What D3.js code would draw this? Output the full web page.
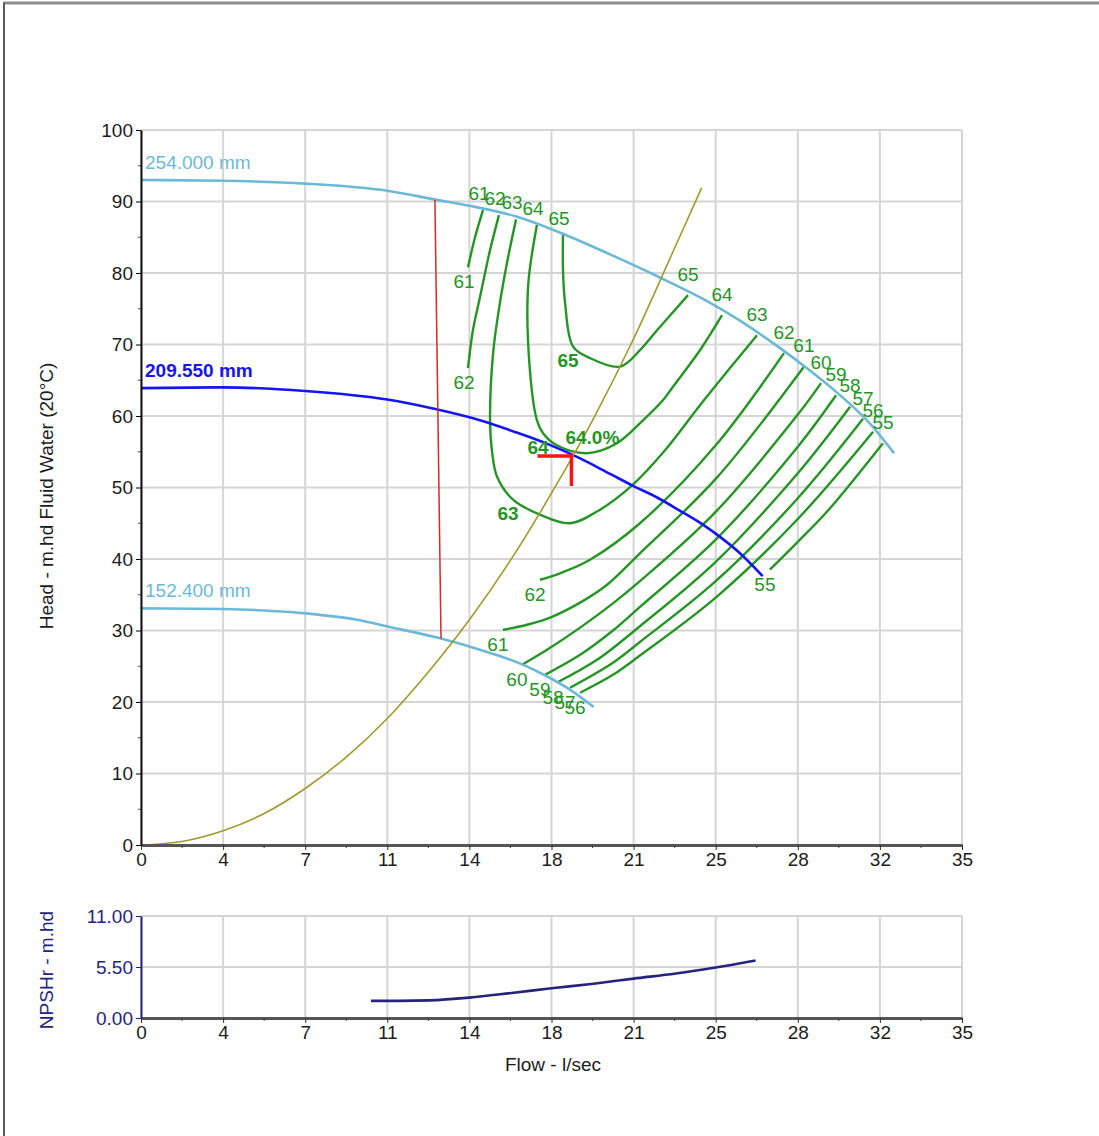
<!DOCTYPE html>
<html>
<head>
<meta charset="utf-8">
<title>Pump performance</title>
<script src="https://cdn.jsdelivr.net/npm/d3@7"></script>
<style>
  body { margin: 0; background: #fff; }
  svg { display: block; font-family: "Liberation Sans", Arial, sans-serif; }
</style>
</head>
<body>
<svg id="chart" width="1099" height="1136"></svg>
<script>
'use strict';

// flow axis (l/sec) and head / npsh axes
var xTicks = [0, 3.5, 7, 10.5, 14, 17.5, 21, 24.5, 28, 31.5, 35];
var xTickLabels = ['0', '4', '7', '11', '14', '18', '21', '25', '28', '32', '35'];
var headTicks = [0, 10, 20, 30, 40, 50, 60, 70, 80, 90, 100];
var npshTicks = [0, 5.5, 11];
var npshTickLabels = ['0.00', '5.50', '11.00'];

// impeller curves, [flow, head]
var imp254 = [[0, 93], [3.5, 92.9], [7, 92.5], [10.5, 91.5], [12.5, 90.3], [14, 89.4], [16, 87.9],
  [17.9, 85.6], [20, 82.6], [22.1, 79.4], [24, 76.3], [25.5, 73.4], [27.2, 69.6], [28.5, 66.4],
  [29.7, 63.2], [31, 59.2], [32.1, 54.8]];
var imp209 = [[0, 63.9], [3.5, 64], [7, 63.5], [10.5, 62.3], [12.5, 61], [14.45, 59.4], [16, 57.7],
  [17.4, 56], [18.7, 54.1], [20, 51.9], [21, 50.2], [22, 48.6], [23, 46.7], [24, 44.7],
  [24.6, 43.3], [25.5, 40.9], [26.5, 37.6]];
var imp152 = [[0, 33.1], [3.5, 33], [7, 32.4], [9.2, 31.5], [10.6, 30.5], [12.75, 28.9], [14.45, 27.3],
  [16.3, 25.2], [17.3, 23.6], [18.3, 21.7], [19.3, 19.3]];
var impLabels = ['254.000 mm', '209.550 mm', '152.400 mm'];

var systemCurve = [[0, 0], [1.75, 0.5], [3.5, 2.0], [5.25, 4.4], [7, 7.9], [8.75, 12.3], [10.5, 17.7],
  [12.25, 24.2], [14, 31.5], [15.75, 39.8], [17.5, 49.2], [19.25, 59.4], [21, 70.8], [22.75, 83.5],
  [23.9, 91.9]];
var redLine = [[12.53, 90.2], [12.79, 28.9]];
var dutyPoint = [18.35, 54.4];
var dutyLabel = '64.0%';

// efficiency contours (%), [flow, head]
var eff61a = [[14.58, 88.8], [14.24, 85.0], [13.94, 80.8]];
var eff62a = [[15.26, 88.1], [14.88, 83.2], [14.45, 76.6], [14.15, 72.0], [13.94, 66.7]];
var eff63 = [[15.99, 87.5], [15.65, 82.2], [15.30, 75.8], [15.01, 68.8], [14.88, 59.4], [14.96, 55.2],
  [15.18, 51.5], [15.86, 48.3], [17.01, 46.2], [18.29, 45.0], [19.57, 46.9], [20.97, 50.4],
  [22.34, 55.2], [23.83, 61.5], [25.11, 66.7], [26.26, 71.3]];
var eff64 = [[16.88, 86.7], [16.50, 78.0], [16.58, 66.4], [16.88, 59.4], [17.14, 57.6], [17.73, 55.9],
  [19.01, 54.8], [20.29, 56.2], [21.40, 59.4], [22.25, 62.2], [22.68, 64.1], [23.83, 69.2], [24.77, 74.1]];
var eff65 = [[17.99, 85.3], [17.99, 80.4], [18.08, 75.8], [18.42, 69.7], [19.14, 68.1], [20.42, 66.9],
  [21.27, 69.2], [22.00, 72.0], [23.32, 76.9]];
var eff62b = [[17.01, 37.1], [17.86, 38.0], [19.14, 39.9], [21.27, 45.0], [24.5, 55.9], [27.41, 68.8]];
var eff61b = [[15.43, 30.1], [16.46, 30.8], [17.44, 31.8], [18.72, 33.9], [19.87, 36.4], [21.27, 40.8],
  [24.5, 51.2], [28.26, 66.9]];
var eff60 = [[16.24, 25.2], [17.31, 27.3], [18.72, 30.4], [20.12, 33.8], [21.27, 36.9], [24.5, 46.6],
  [28, 60.2], [28.99, 64.6]];
var eff59 = [[17.22, 23.8], [18.72, 26.6], [20.12, 30.0], [21.27, 33.3], [24.5, 42.7], [28, 55.7], [29.63, 62.9]];
var eff58 = [[17.78, 22.8], [19.44, 25.9], [21.27, 30.6], [24.5, 39.6], [28, 52.0], [30.23, 61.3]];
var eff57 = [[18.29, 22.0], [20.12, 25.5], [21.27, 28.4], [24.5, 36.9], [28, 48.5], [30.78, 59.6]];
var eff56 = [[18.72, 21.3], [20.12, 23.8], [21.27, 26.5], [24.5, 34.6], [28, 45.6], [31.21, 57.8]];
var eff55 = [[26.81, 38.5], [28, 42.4], [29.24, 46.6], [31.63, 56.2]];

// NPSHr curve, [flow, m]
var npsh = [[9.8, 1.85], [11, 1.85], [12.3, 1.9], [14, 2.2], [15.8, 2.7], [17.5, 3.2], [19.3, 3.7],
  [21, 4.25], [22.8, 4.8], [24.5, 5.45], [26.2, 6.2]];

var contours = [
  {level: 61, kind: 'left', pts: eff61a},
  {level: 62, kind: 'left', pts: eff62a},
  {level: 63, kind: 'bowl', pts: eff63, mid: 7},
  {level: 64, kind: 'bowl', pts: eff64, mid: 4},
  {level: 65, kind: 'bowl', pts: eff65, mid: 3},
  {level: 62, kind: 'rise', pts: eff62b},
  {level: 61, kind: 'rise', pts: eff61b},
  {level: 60, kind: 'rise', pts: eff60},
  {level: 59, kind: 'rise', pts: eff59},
  {level: 58, kind: 'rise', pts: eff58},
  {level: 57, kind: 'rise', pts: eff57},
  {level: 56, kind: 'rise', pts: eff56},
  {level: 55, kind: 'rise', pts: eff55}
];

var labelOffsets = {
  left: {first: [-4, -17], last: [-4, 14]},
  bowl: {first: [-4, -17], last: [0, -21]},
  rise: {first: [-5, 15], last: [0, -21]}
};

var green = '#259525',
  lightBlue = '#6cb9d7',
  blue = '#1515f0',
  navy = '#24247e',
  gridColor = '#d5d5d5';

var svg = d3.select('#chart');

var x = d3.scaleLinear().domain([0, 35]).range([141, 962]);
var y = d3.scaleLinear().domain([0, 100]).range([845, 130]);
var yN = d3.scaleLinear().domain([0, 11]).range([1018, 916]);

// page frame
svg.append('line')
  .attr('x1', 3).attr('x2', 1099).attr('y1', 3).attr('y2', 3)
  .attr('stroke', '#8c8c8c').attr('stroke-width', 3);
svg.append('line')
  .attr('x1', 4).attr('x2', 4).attr('y1', 3).attr('y2', 1136)
  .attr('stroke', '#5a5a5a').attr('stroke-width', 2);

// grids
function drawGrid(yScale, yValues) {
  var g = svg.append('g');
  var yr = yScale.range();
  g.selectAll('line.v').data(xTicks).enter().append('line')
    .attr('x1', function (d) { return x(d); })
    .attr('x2', function (d) { return x(d); })
    .attr('y1', yr[0]).attr('y2', yr[1])
    .attr('stroke', gridColor).attr('stroke-width', 2);
  g.selectAll('line.h').data(yValues).enter().append('line')
    .attr('x1', x(0)).attr('x2', x(35))
    .attr('y1', function (d) { return yScale(d); })
    .attr('y2', function (d) { return yScale(d); })
    .attr('stroke', gridColor).attr('stroke-width', 2);
}
drawGrid(y, headTicks);
drawGrid(yN, npshTicks);

// contours can turn back on themselves, so they use catmull-rom
var contourLine = d3.line()
  .x(function (d) { return x(d[0]); })
  .y(function (d) { return y(d[1]); })
  .curve(d3.curveCatmullRom.alpha(0.5));

var curveLine = d3.line()
  .x(function (d) { return x(d[0]); })
  .y(function (d) { return y(d[1]); })
  .curve(d3.curveMonotoneX);

// efficiency contours
svg.append('g').selectAll('path').data(contours).enter().append('path')
  .attr('d', function (d) { return contourLine(d.pts); })
  .attr('fill', 'none').attr('stroke', green).attr('stroke-width', 2.4);

// impeller curves
var impellers = [
  {pts: imp254, label: impLabels[0], color: lightBlue, weight: 'normal'},
  {pts: imp209, label: impLabels[1], color: blue, weight: 'bold'},
  {pts: imp152, label: impLabels[2], color: lightBlue, weight: 'normal'}
];
svg.append('g').selectAll('path').data(impellers).enter().append('path')
  .attr('d', function (d) { return curveLine(d.pts); })
  .attr('fill', 'none')
  .attr('stroke', function (d) { return d.color; })
  .attr('stroke-width', 2.6);
svg.append('g').selectAll('text').data(impellers).enter().append('text')
  .attr('x', function (d) { return x(d.pts[0][0]) + 4; })
  .attr('y', function (d) { return y(d.pts[0][1]) - 11; })
  .attr('font-size', 19)
  .attr('font-weight', function (d) { return d.weight; })
  .attr('fill', function (d) { return d.color; })
  .text(function (d) { return d.label; });

// system curve
svg.append('path')
  .attr('d', curveLine(systemCurve))
  .attr('fill', 'none').attr('stroke', '#a09a2c').attr('stroke-width', 1.6);

// red reference line
svg.append('path')
  .attr('d', d3.line().x(function (d) { return x(d[0]); }).y(function (d) { return y(d[1]); })(redLine))
  .attr('fill', 'none').attr('stroke', '#d32a2a').attr('stroke-width', 1.5);

// contour labels
var labels = [];
contours.forEach(function (c) {
  var off = labelOffsets[c.kind];
  var first = c.pts[0], last = c.pts[c.pts.length - 1];
  labels.push({t: c.level, px: x(first[0]) + off.first[0], py: y(first[1]) + off.first[1], w: 'normal'});
  labels.push({t: c.level, px: x(last[0]) + off.last[0], py: y(last[1]) + off.last[1], w: 'normal'});
  if (c.mid !== undefined) {
    var m = c.pts[c.mid];
    labels.push({t: c.level, px: x(m[0]) - 5, py: y(m[1]) + 14, w: 'bold'});
  }
});
svg.append('g').selectAll('text').data(labels).enter().append('text')
  .attr('x', function (d) { return d.px; })
  .attr('y', function (d) { return d.py; })
  .attr('dy', '0.35em')
  .attr('text-anchor', 'middle')
  .attr('font-size', 19)
  .attr('font-weight', function (d) { return d.w; })
  .attr('fill', green)
  .text(function (d) { return d.t; });

// duty point label and marker
svg.append('text')
  .attr('x', x(dutyPoint[0]) - 6)
  .attr('y', y(dutyPoint[1]) - 12)
  .attr('font-size', 19)
  .attr('font-weight', 'bold')
  .attr('fill', green)
  .text(dutyLabel);
var dx = x(dutyPoint[0]), dy = y(dutyPoint[1]);
svg.append('path')
  .attr('d', 'M' + (dx - 34) + ',' + dy + 'H' + dx + 'V' + (dy + 30))
  .attr('fill', 'none').attr('stroke', '#ff1414').attr('stroke-width', 3.5);

// NPSHr curve
svg.append('path')
  .attr('d', d3.line()
    .x(function (d) { return x(d[0]); })
    .y(function (d) { return yN(d[1]); })
    .curve(d3.curveMonotoneX)(npsh))
  .attr('fill', 'none').attr('stroke', navy).attr('stroke-width', 2.6);

// axes
function xAxisAt(py) {
  var g = svg.append('g')
    .attr('transform', 'translate(0,' + py + ')')
    .call(d3.axisBottom(x).tickValues(xTicks)
      .tickFormat(function (d, i) { return xTickLabels[i]; })
      .tickSize(5).tickSizeOuter(0).tickPadding(3));
  g.attr('font-family', null).attr('font-size', 19);
  g.select('.domain').attr('stroke', '#555').attr('stroke-width', 3);
  g.selectAll('.tick line').attr('stroke', '#333');
  g.selectAll('.tick text').attr('fill', '#1c1c1c');
  g.selectAll('line.minor').data(d3.pairs(xTicks)).enter().append('line')
    .attr('class', 'minor')
    .attr('x1', function (d) { return x((d[0] + d[1]) / 2); })
    .attr('x2', function (d) { return x((d[0] + d[1]) / 2); })
    .attr('y1', 0).attr('y2', 3)
    .attr('stroke', '#444');
}
xAxisAt(y(0));
xAxisAt(yN(0));

var gy = svg.append('g')
  .attr('transform', 'translate(' + x(0) + ',0)')
  .call(d3.axisLeft(y).tickValues(headTicks).tickSize(5).tickSizeOuter(0).tickPadding(3));
gy.attr('font-family', null).attr('font-size', 19);
gy.select('.domain').attr('stroke', '#111').attr('stroke-width', 2);
gy.selectAll('.tick text').attr('fill', '#1c1c1c');
gy.selectAll('line.minor').data(d3.pairs(headTicks)).enter().append('line')
  .attr('class', 'minor')
  .attr('y1', function (d) { return y((d[0] + d[1]) / 2); })
  .attr('y2', function (d) { return y((d[0] + d[1]) / 2); })
  .attr('x1', 0).attr('x2', -3)
  .attr('stroke', '#444');

var gn = svg.append('g')
  .attr('transform', 'translate(' + x(0) + ',0)')
  .call(d3.axisLeft(yN).tickValues(npshTicks)
    .tickFormat(function (d, i) { return npshTickLabels[i]; })
    .tickSize(5).tickSizeOuter(0).tickPadding(3));
gn.attr('font-family', null).attr('font-size', 19);
gn.select('.domain').attr('stroke', navy).attr('stroke-width', 2);
gn.selectAll('.tick line').attr('stroke', navy);
gn.selectAll('.tick text').attr('fill', navy);

// axis titles
svg.append('text')
  .attr('transform', 'translate(53,496) rotate(-90)')
  .attr('text-anchor', 'middle')
  .attr('font-size', 19).attr('fill', '#1c1c1c')
  .text('Head - m.hd Fluid Water (20°C)');
svg.append('text')
  .attr('transform', 'translate(53,970) rotate(-90)')
  .attr('text-anchor', 'middle')
  .attr('font-size', 19).attr('fill', navy)
  .text('NPSHr - m.hd');
svg.append('text')
  .attr('x', 553).attr('y', 1071)
  .attr('text-anchor', 'middle')
  .attr('font-size', 19).attr('fill', '#1c1c1c')
  .text('Flow - l/sec');
</script>
</body>
</html>
